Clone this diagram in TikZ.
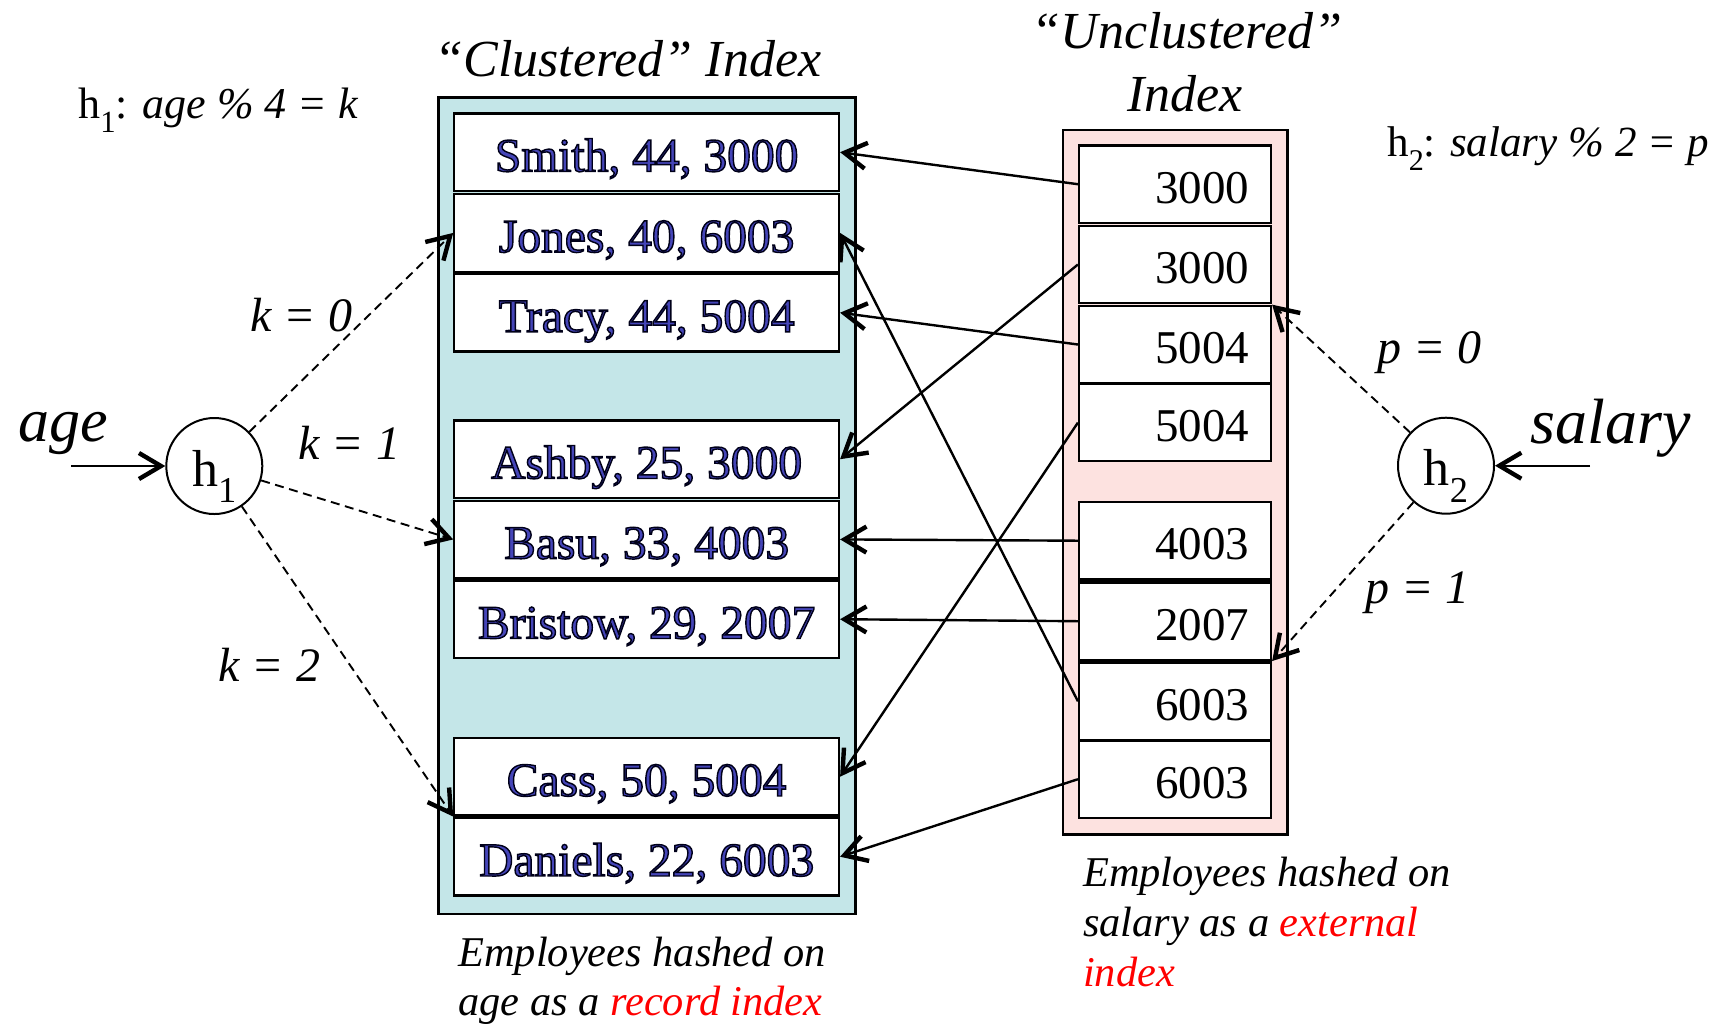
\documentclass[tikz,border=0pt]{standalone}
\usepackage{fontspec}
\setmainfont{Liberation Serif}
\newfontfamily\recfont[FakeBold=3]{Liberation Serif}
\usetikzlibrary{arrows.meta,calc}
\definecolor{clfill}{RGB}{196,230,232}
\definecolor{ucfill}{RGB}{253,226,224}
\newcommand\hsb[1]{h\raisebox{-0.32em}{\scalebox{0.7}{#1}}}
\begin{document}
\begin{tikzpicture}[x=0.5pt,y=-0.5pt,
  cbox/.style={draw, line width=1.4pt, fill=clfill, inner sep=0pt},
  ubox/.style={draw, line width=1.4pt, fill=ucfill, inner sep=0pt},
  rec/.style={draw, line width=1.1pt, fill=white, inner sep=0pt,
    minimum width=192.35pt, minimum height=38.75pt,
    text height=22pt, text depth=2.75pt,
    font=\recfont\fontsize{23.75}{28}\selectfont,
    execute at begin node={\special{pdf:bcolor [0.27 0.27 0.72] [0 0 0.1]}},
    execute at end node={\special{pdf:ecolor}}},
  urow/.style={draw, line width=1.1pt, fill=white, inner xsep=11pt, inner ysep=0pt,
    text width=74pt, align=right, minimum height=38.75pt,
    text height=22pt, text depth=2.75pt, font=\fontsize{23.5}{28}\selectfont},
  hashc/.style={circle, draw, line width=1pt, fill=white, minimum size=48pt, inner sep=0pt,
    text height=20pt, text depth=0pt, font=\fontsize{26}{30}\selectfont},
  lab/.style={anchor=base west, inner sep=0pt, font=\itshape\fontsize{24}{28}\selectfont},
  captxt/.style={anchor=base west, inner sep=0pt, font=\itshape\fontsize{21.2}{25}\selectfont},
  ttl/.style={anchor=base, inner sep=0pt, font=\itshape\fontsize{26}{30}\selectfont},
  tipbarb/.style={-{Straight Barb[length=11pt,width=13pt,line width=2.2pt]}},
  conn/.style={line width=1.2pt, tipbarb},
  dconn/.style={line width=0.95pt, dash pattern=on 4.5pt off 2.8pt, tipbarb}]
\useasboundingbox (0,0) rectangle (1713,1025);

% outer boxes
\node[cbox, minimum width=208.5pt, minimum height=408.35pt] (cl) at (646.8,505.65) {};
\node[ubox, minimum width=112.25pt, minimum height=352.15pt] (ucl) at (1175.25,482.15) {};

% clustered records
\node[rec] (smith)   at (646.65,152.2) {Smith, 44, 3000};
\node[rec] (jones)   at (646.65,232.9) {Jones, 40, 6003};
\node[rec] (tracy)   at (646.65,312.7) {Tracy, 44, 5004};
\node[rec] (ashby)   at (646.65,459.2) {Ashby, 25, 3000};
\node[rec] (basu)    at (646.65,539.4) {Basu, 33, 4003};
\node[rec] (bristow) at (646.65,619.2) {Bristow, 29, 2007};
\node[rec] (cass)    at (646.65,776.7) {Cass, 50, 5004};
\node[rec] (daniels) at (646.65,856.7) {Daniels, 22, 6003};

% unclustered entries
\node[urow] (u1) at (1175,184.2) {3000};
\node[urow] (u2) at (1175,264.5) {3000};
\node[urow] (u3) at (1175,344.5) {5004};
\node[urow] (u4) at (1175,422.6) {5004};
\node[urow] (u5) at (1175,540.7) {4003};
\node[urow] (u6) at (1175,621.2) {2007};
\node[urow] (u7) at (1175,701.3) {6003};
\node[urow] (u8) at (1175,779.2) {6003};

% hash functions
\node[hashc] (h1) at (214.3,466) {\hsb{1}};
\node[hashc] (h2) at (1446,465.7) {\hsb{2}};
\coordinate (agein) at (71,466);
\coordinate (salin) at (1590,465.7);

% titles and labels
\node[ttl] (tcl) at (628,76.7) {“Clustered” Index};
\node[ttl] (tuc1) at (1187,48.3) {“Unclustered”};
\node[ttl] (tuc2) at (1185,111.7) {Index};
\node[anchor=base west, inner sep=0pt, font=\fontsize{22}{26}\selectfont] (f1) at (78,118.3) {\hsb{1}: \textit{age \% 4 = k}};
\node[anchor=base west, inner sep=0pt, font=\fontsize{21.5}{26}\selectfont] (f2) at (1387,156.7) {\hsb{2}: \textit{salary \% 2 = p}};
\node[lab] (k0) at (250,331.7) {k = 0};
\node[lab] (k1) at (298,459) {k = 1};
\node[lab] (k2) at (218,681.7) {k = 2};
\node[lab] (p0) at (1377,363) {p = 0};
\node[lab] (p1) at (1365,603) {p = 1};
\node[lab, font=\itshape\fontsize{31}{36}\selectfont] (agel) at (18.3,441.7) {age};
\node[lab, font=\itshape\fontsize{32}{36}\selectfont] (sall) at (1530,443.3) {salary};

% captions
\node[captxt] (c1a) at (458,966) {Employees hashed on};
\node[captxt] (c1b) at (458,1015) {age as a \textcolor{red}{record index}};
\node[captxt] (c2a) at (1082.7,886) {Employees hashed on};
\node[captxt] (c2b) at (1082.7,936) {salary as a \textcolor{red}{external}};
\node[captxt] (c2c) at (1082.7,986.7) {\textcolor{red}{index}};

% pointers
\draw[conn] (u1.west) -- (smith.east);
\draw[conn] (u2.west) -- (ashby.east);
\draw[conn] (u3.west) -- (tracy.east);
\draw[conn] (u4.west) -- (cass.east);
\draw[conn] (u5.west) -- (basu.east);
\draw[conn] (u6.west) -- (bristow.east);
\draw[conn] (u7.west) -- (jones.east);
\draw[conn] (u8.west) -- (daniels.east);

% hashing
\draw[conn] (agein) -- (h1);
\draw[conn] (salin) -- (h2);
\draw[dconn] (h1) -- (jones.west);
\draw[dconn] (h1) -- (basu.west);
\draw[dconn] (h1) -- (cass.south west);
\draw[dconn] (h2) -- (u3.north east);
\draw[dconn] (h2) -- (u6.south east);
\end{tikzpicture}
\end{document}
